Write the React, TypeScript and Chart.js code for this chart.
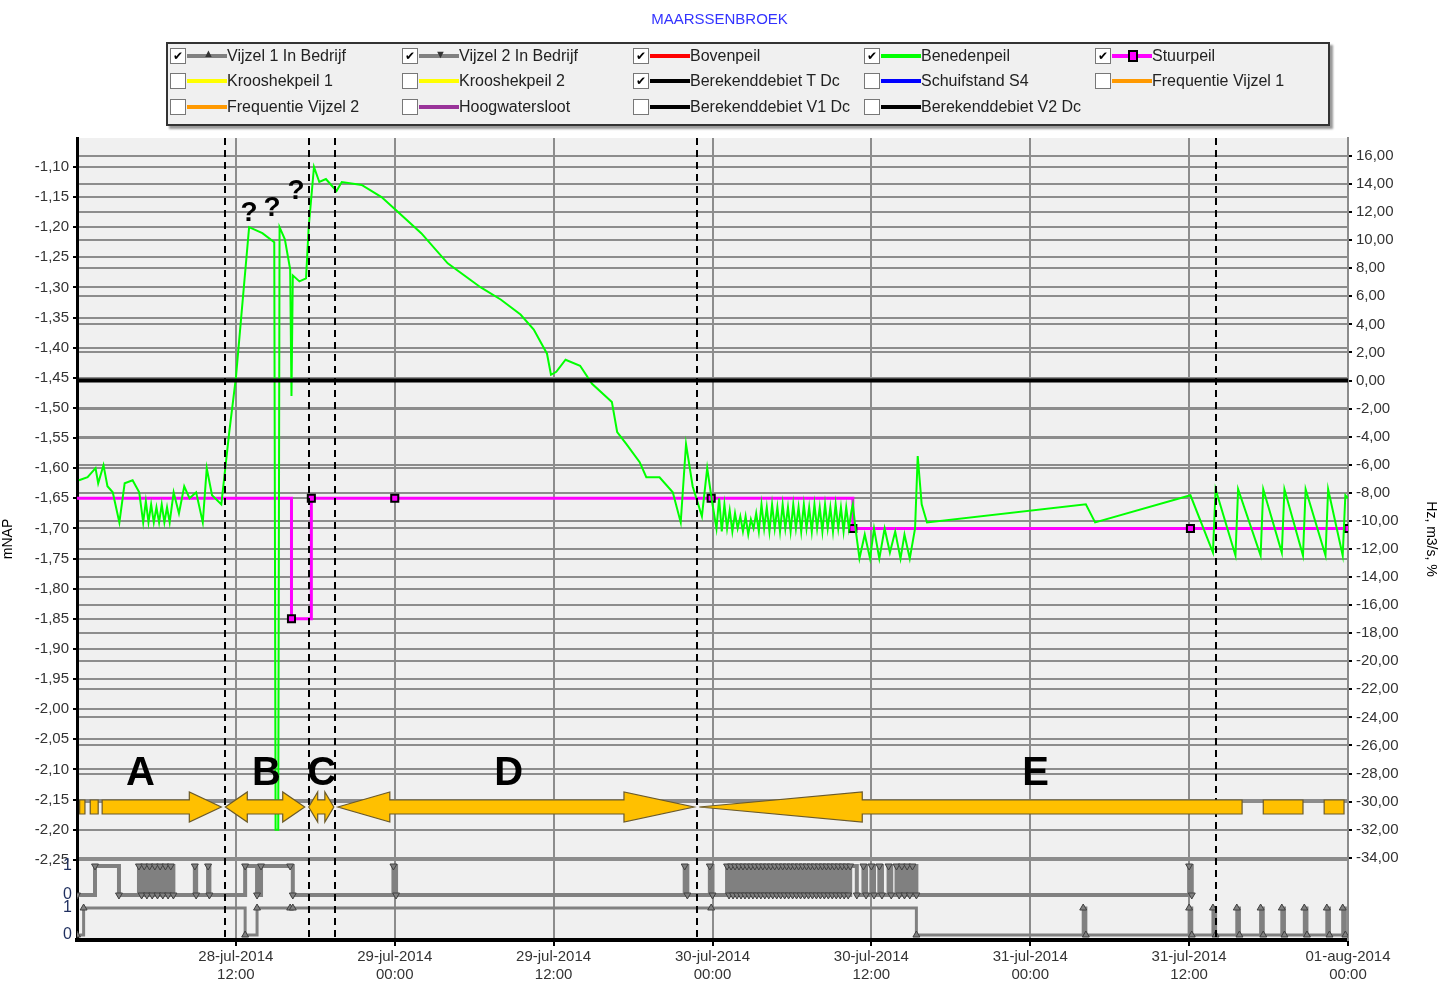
import React, { useEffect, useRef } from "react";
import { Chart, registerables } from "chart.js";
Chart.register(...registerables);

// hours since 28-jul-2014 00:00
const xTickHours = [12, 24, 36, 48, 60, 72, 84, 96];
const xTickLabels = [
  ["28-jul-2014", "12:00"], ["29-jul-2014", "00:00"], ["29-jul-2014", "12:00"], ["30-jul-2014", "00:00"],
  ["30-jul-2014", "12:00"], ["31-jul-2014", "00:00"], ["31-jul-2014", "12:00"], ["01-aug-2014", "00:00"],
];

const benedenH = [0.15, 0.8, 1.4, 1.6, 2.0, 2.3, 2.7, 3.2, 3.6, 4.2, 4.7, 5.0, 5.2, 5.4, 5.6, 5.8, 6.0, 6.2, 6.4, 6.6, 6.8, 7.0, 7.3, 7.7, 8.1, 8.5, 9.0, 9.5, 9.8, 10.2, 10.9, 11.5, 12.0, 12.4, 13.0, 14.0, 14.9, 15.0, 15.2, 15.3, 15.7, 16.1, 16.2, 16.3, 16.8, 17.3, 17.5, 17.9, 18.3, 18.8, 19.6, 20.0, 21.5, 23.0, 24.0, 26.0, 28.0, 30.5, 32.0, 33.5, 34.5, 35.5, 35.8, 36.2, 36.9, 38.0, 38.9, 40.4, 40.8, 41.5, 42.5, 43.0, 44.0, 45.0, 45.6, 46.0, 46.5, 47.2, 47.6, 48.0, 48.3,
  48.5, 48.7, 48.9, 49.1, 49.3, 49.5, 49.7, 49.9, 50.1, 50.3, 50.5, 50.7, 50.9, 51.1, 51.3, 51.5, 51.7, 51.9, 52.1, 52.3, 52.5, 52.7, 52.9, 53.1, 53.3, 53.5, 53.7, 53.9, 54.1, 54.3, 54.5, 54.7, 54.9, 55.1, 55.3, 55.5, 55.7, 55.9, 56.1, 56.3, 56.5, 56.7, 56.9, 57.1, 57.3, 57.5, 57.7, 57.9, 58.1, 58.3, 58.5,
  58.6, 58.8, 59.1, 59.5, 59.9, 60.2, 60.6, 61.0, 61.4, 61.8, 62.2, 62.5, 62.9, 63.3, 63.5, 63.8, 64.2, 76.2, 76.9, 84.1, 85.8, 86.0, 87.5, 87.7, 89.4, 89.6, 91.0, 91.2, 92.6, 92.8, 94.3, 94.5, 95.6, 95.8, 96.0];
const benedenV = [-1.62, -1.615, -1.60, -1.625, -1.595, -1.63, -1.64, -1.69, -1.625, -1.62, -1.64, -1.69, -1.655, -1.69, -1.66, -1.69, -1.665, -1.69, -1.66, -1.69, -1.665, -1.69, -1.64, -1.675, -1.63, -1.65, -1.64, -1.69, -1.60, -1.645, -1.66, -1.54, -1.45, -1.35, -1.20, -1.21, -1.225, -2.20, -2.20, -1.20, -1.22, -1.27, -1.48, -1.28, -1.29, -1.285, -1.20, -1.10, -1.125, -1.12, -1.14, -1.125, -1.13, -1.15, -1.17, -1.21, -1.26, -1.30, -1.32, -1.345, -1.37, -1.41, -1.445, -1.44, -1.42, -1.43, -1.46, -1.49, -1.54, -1.56, -1.59, -1.615, -1.615, -1.64, -1.69, -1.56, -1.63, -1.68, -1.60, -1.66, -1.70,
  -1.65, -1.705, -1.66, -1.70, -1.67, -1.705, -1.675, -1.70, -1.68, -1.705, -1.68, -1.71, -1.685, -1.70, -1.675, -1.705, -1.66, -1.70, -1.665, -1.705, -1.66, -1.70, -1.665, -1.705, -1.66, -1.70, -1.665, -1.705, -1.66, -1.70, -1.665, -1.705, -1.66, -1.70, -1.665, -1.705, -1.66, -1.70, -1.665, -1.705, -1.66, -1.70, -1.665, -1.705, -1.66, -1.70, -1.665, -1.705, -1.665, -1.70, -1.67,
  -1.66, -1.70, -1.75, -1.71, -1.75, -1.70, -1.75, -1.70, -1.74, -1.705, -1.75, -1.71, -1.75, -1.70, -1.58, -1.66, -1.69, -1.66, -1.69, -1.645, -1.74, -1.635, -1.745, -1.635, -1.745, -1.635, -1.74, -1.635, -1.745, -1.635, -1.745, -1.635, -1.745, -1.645, -1.65];

const stuurH = [0, 16.2, 16.2, 17.7, 17.7, 24.0, 47.9, 58.6, 58.6, 84.1, 96.0];
const stuurV = [-1.65, -1.65, -1.85, -1.85, -1.65, -1.65, -1.65, -1.65, -1.70, -1.70, -1.70];
const stuurMarker = [false, false, true, false, true, true, true, false, true, true, true];

const vijzel1H = [0, 0.5, 12.7, 13.6, 16.1, 16.3, 47.9, 63.4, 76.0, 76.2, 84.0, 84.2, 85.8, 86.0, 87.6, 87.8, 89.4, 89.6, 91.0, 91.2, 92.7, 92.9, 94.4, 94.6, 95.6, 95.8];
const vijzel1S = [0, 1, 0, 1, 1, 1, 1, 0, 1, 0, 1, 0, 1, 0, 1, 0, 1, 0, 1, 0, 1, 0, 1, 0, 1, 0];

const vijzel2EarlyH = [4.68, 4.88, 5.08, 5.28, 5.48, 5.68, 5.88, 6.08, 6.28, 6.48, 6.68, 6.88, 7.08, 7.28];
const vijzel2EarlyS = [1, 0, 1, 0, 1, 0, 1, 0, 1, 0, 1, 0, 1, 0];
const vijzel2DenseH = [49.10, 49.25, 49.40, 49.55, 49.70, 49.85, 50.00, 50.15, 50.30, 50.45, 50.60, 50.75, 50.90, 51.05, 51.20, 51.35, 51.50, 51.65, 51.80, 51.95, 52.10, 52.25, 52.40, 52.55, 52.70, 52.85, 53.00, 53.15, 53.30, 53.45, 53.60, 53.75, 53.90, 54.05, 54.20, 54.35, 54.50, 54.65, 54.80, 54.95, 55.10, 55.25, 55.40, 55.55, 55.70, 55.85, 56.00, 56.15, 56.30, 56.45, 56.60, 56.75, 56.90, 57.05, 57.20, 57.35, 57.50, 57.65, 57.80, 57.95, 58.10, 58.25, 58.40];
const vijzel2DenseS = [1, 0, 1, 0, 1, 0, 1, 0, 1, 0, 1, 0, 1, 0, 1, 0, 1, 0, 1, 0, 1, 0, 1, 0, 1, 0, 1, 0, 1, 0, 1, 0, 1, 0, 1, 0, 1, 0, 1, 0, 1, 0, 1, 0, 1, 0, 1, 0, 1, 0, 1, 0, 1, 0, 1, 0, 1, 0, 1, 0, 1, 0, 1];
const vijzel2H = [0, 1.36, 3.17, ...vijzel2EarlyH, 8.9, 9.0, 9.9, 10.0, 12.7, 13.6, 13.9, 16.1, 16.3, 23.9, 24.1, 45.9, 46.1, 47.8, 48.0, ...vijzel2DenseH, 58.9, 59.4, 59.6, 60.0, 60.2, 60.6, 60.8, 61.3, 61.5, 61.9, 62.1, 62.3, 62.5, 62.7, 62.9, 63.1, 63.4, 84.0, 84.2];
const vijzel2S = [0, 1, 0, ...vijzel2EarlyS, 1, 0, 1, 0, 1, 0, 1, 1, 0, 1, 0, 1, 0, 1, 0, ...vijzel2DenseS, 0, 1, 0, 1, 0, 1, 0, 1, 0, 1, 0, 1, 0, 1, 0, 1, 0, 1, 0];

const legendItems = [
  { label: "Vijzel 1 In Bedrijf", checked: true, color: "#808080", marker: "up" },
  { label: "Vijzel 2 In Bedrijf", checked: true, color: "#808080", marker: "down" },
  { label: "Bovenpeil", checked: true, color: "#ff0000" },
  { label: "Benedenpeil", checked: true, color: "#00ff00" },
  { label: "Stuurpeil", checked: true, color: "#ff00ff", marker: "square" },
  { label: "Krooshekpeil 1", checked: false, color: "#ffff00" },
  { label: "Krooshekpeil 2", checked: false, color: "#ffff00" },
  { label: "Berekenddebiet T Dc", checked: true, color: "#000000" },
  { label: "Schuifstand S4", checked: false, color: "#0000ff" },
  { label: "Frequentie Vijzel 1", checked: false, color: "#ff9900" },
  { label: "Frequentie Vijzel 2", checked: false, color: "#ff9900" },
  { label: "Hoogwatersloot", checked: false, color: "#993399" },
  { label: "Berekenddebiet V1 Dc", checked: false, color: "#000000" },
  { label: "Berekenddebiet V2 Dc", checked: false, color: "#000000" },
];

const dashedHours = [11.2, 17.5, 19.5, 46.8, 86.0];
const phaseLetters = ["A", "B", "C", "D", "E"];
const phaseLetterHours = [4.8, 14.3, 18.5, 32.6, 72.4];

// status rows in pixel offsets from the bottom of the plot (layout only)
const V1_ROW = [5, 32];
const V2_ROW = [45, 74];
const FONT = "'Liberation Sans', Arial, sans-serif";

export default function App() {
  const ref = useRef<HTMLCanvasElement>(null);
  useEffect(() => {
    document.body.style.margin = "0";
    const overlay = {
      id: "overlay",
      afterDraw(chart: any) {
        const { ctx, chartArea: a, scales } = chart;
        const x = scales.x;
        ctx.save();
        ctx.strokeStyle = "#000";
        ctx.lineWidth = 2;
        ctx.setLineDash([7, 5]);
        for (const h of dashedHours) {
          const px = Math.round(x.getPixelForValue(h));
          ctx.beginPath(); ctx.moveTo(px, a.top); ctx.lineTo(px, a.bottom); ctx.stroke();
        }
        ctx.setLineDash([]);
        const y = 807;
        const arrow = (x1: number, x2: number, lh: number, rh: number) => {
          const bh = 7, hh = 15;
          ctx.beginPath();
          if (lh > 0) { ctx.moveTo(x1, y); ctx.lineTo(x1 + lh, y - hh); ctx.lineTo(x1 + lh, y - bh); }
          else { ctx.moveTo(x1, y - bh); }
          if (rh > 0) { ctx.lineTo(x2 - rh, y - bh); ctx.lineTo(x2 - rh, y - hh); ctx.lineTo(x2, y); ctx.lineTo(x2 - rh, y + hh); ctx.lineTo(x2 - rh, y + bh); }
          else { ctx.lineTo(x2, y - bh); ctx.lineTo(x2, y + bh); }
          if (lh > 0) { ctx.lineTo(x1 + lh, y + bh); ctx.lineTo(x1 + lh, y + hh); }
          else { ctx.lineTo(x1, y + bh); }
          ctx.closePath();
          ctx.fillStyle = "#ffc000"; ctx.fill();
          ctx.strokeStyle = "#6b5a2a"; ctx.lineWidth = 1.2; ctx.stroke();
        };
        const P = (h: number) => x.getPixelForValue(h);
        arrow(P(0.2), P(0.6), 0, 0);
        arrow(P(1.0), P(1.6), 0, 0);
        arrow(P(1.9), P(10.9), 0, 32);
        arrow(P(11.2), P(17.2), 22, 22);
        arrow(P(17.5), P(19.4), 9, 9);
        arrow(P(19.7), P(46.6), 52, 70);
        arrow(P(47.0), P(88.0), 163, 0);
        arrow(P(89.6), P(92.6), 0, 0);
        arrow(P(94.2), P(95.7), 0, 0);
        ctx.fillStyle = "#000";
        ctx.font = `bold 40px ${FONT}`;
        ctx.textAlign = "center"; ctx.textBaseline = "middle";
        phaseLetters.forEach((l, i) => ctx.fillText(l, P(phaseLetterHours[i]), 774));
        ctx.font = `bold 28px ${FONT}`;
        ctx.fillText("?", 249, 213); ctx.fillText("?", 272, 208); ctx.fillText("?", 296, 191);
        ctx.font = `16px ${FONT}`;
        ctx.fillStyle = "#1f2f5f";
        ctx.textAlign = "right";
        [[V2_ROW[1], "1"], [V2_ROW[0], "0"], [V1_ROW[1], "1"], [V1_ROW[0], "0"]].forEach(([o, t]: any) => {
          ctx.fillText(t, a.left - 5, a.bottom - o);
        });
        ctx.restore();
      },
    };
    const bg = {
      id: "bg",
      beforeDraw(chart: any) {
        const { ctx, chartArea: a } = chart;
        ctx.save(); ctx.fillStyle = "#f0f0f0"; ctx.fillRect(a.left, a.top, a.width, a.height); ctx.restore();
      },
    };
    const H = 802;
    const statusPts = (hs: number[], ss: number[], row: number[]) => hs.map((h, i) => ({ x: h, y: row[ss[i]] }));
    const chart = new Chart(ref.current!, {
      type: "line",
      data: {
        datasets: [
          { label: "zero", data: [{ x: 0, y: 0 }, { x: 96, y: 0 }], yAxisID: "yr", borderColor: "#000", borderWidth: 4, pointRadius: 0 },
          { label: "Benedenpeil", data: benedenH.map((h, i) => ({ x: h, y: benedenV[i] })), yAxisID: "y", borderColor: "#00ff00", borderWidth: 2, pointRadius: 0, tension: 0 },
          { label: "Stuurpeil", data: stuurH.map((h, i) => ({ x: h, y: stuurV[i] })), yAxisID: "y", borderColor: "#ff00ff", borderWidth: 3, pointRadius: stuurMarker.map((m) => (m ? 5 : 0)), pointStyle: "rect", pointBackgroundColor: "#ff00ff", pointBorderColor: "#000", pointBorderWidth: 2 },
          { label: "V2", data: statusPts(vijzel2H, vijzel2S, V2_ROW), yAxisID: "ys", stepped: true, borderColor: "#808080", borderWidth: 4, pointRadius: 4, pointStyle: "triangle", rotation: 180, pointBackgroundColor: "#808080", pointBorderColor: "#404040", pointBorderWidth: 1 },
          { label: "V1", data: statusPts(vijzel1H, vijzel1S, V1_ROW), yAxisID: "ys", stepped: true, borderColor: "#808080", borderWidth: 3, pointRadius: 4, pointStyle: "triangle", pointBackgroundColor: "#808080", pointBorderColor: "#404040", pointBorderWidth: 1 },
        ],
      },
      options: {
        animation: false, responsive: false, devicePixelRatio: 1,
        layout: { padding: { top: 138, left: 0, right: 0, bottom: 0 } },
        plugins: { legend: { display: false }, tooltip: { enabled: false } },
        scales: {
          x: {
            type: "linear", min: 0, max: 96,
            afterBuildTicks: (s: any) => { s.ticks = xTickHours.map((v) => ({ value: v })); },
            afterFit: (s: any) => { s.height = 46; },
            ticks: { callback: (v: any) => xTickLabels[xTickHours.indexOf(v)] ?? "", color: "#333", font: { size: 15, family: FONT }, maxRotation: 0, padding: 2 },
            grid: { color: "#8c8c8c", lineWidth: 2, tickLength: 6, tickColor: "#000" },
            border: { color: "#000", width: 4 },
          },
          y: {
            position: "left", min: -2.383, max: -1.052,
            afterBuildTicks: (s: any) => { const t = []; for (let i = 0; i <= 23; i++) t.push({ value: -1.10 - i * 0.05 }); s.ticks = t; },
            afterFit: (s: any) => { s.width = 77; },
            ticks: { callback: (v: any) => Number(v).toFixed(2).replace(".", ","), color: "#333", font: { size: 15, family: FONT }, padding: 4 },
            title: { display: true, text: "mNAP", color: "#000", font: { size: 14, family: FONT }, padding: 0 },
            grid: { color: "#8c8c8c", lineWidth: 2, tickLength: 4, tickColor: "#000" },
            border: { color: "#000", width: 3 },
          },
          yr: {
            position: "right", min: -39.86, max: 17.28,
            afterBuildTicks: (s: any) => { const t = []; for (let v = -34; v <= 16; v += 2) t.push({ value: v }); s.ticks = t; },
            afterFit: (s: any) => { s.width = 91; },
            ticks: { callback: (v: any) => Number(v).toFixed(2).replace(".", ","), color: "#333", font: { size: 15, family: FONT }, padding: 4 },
            title: { display: true, text: "Hz, m3/s, %", color: "#000", font: { size: 14, family: FONT }, padding: 0 },
            grid: { color: "#8c8c8c", lineWidth: 2, tickLength: 4, tickColor: "#000" },
            border: { color: "#8c8c8c", width: 2 },
          },
          ys: { display: false, min: 0, max: H },
        },
      } as any,
      plugins: [bg, overlay],
    });
    return () => chart.destroy();
  }, []);

  const cols = [170, 402, 633, 864, 1095];
  const rows = [56, 81, 107];
  return (
    <div style={{ position: "relative", width: 1439, height: 986, background: "#fff", fontFamily: FONT }}>
      <canvas ref={ref} width={1439} height={986} style={{ position: "absolute", left: 0, top: 0 }} />
      <div style={{ position: "absolute", left: 0, width: 1439, top: 10, textAlign: "center", color: "#3333ff", fontSize: 15 }}>MAARSSENBROEK</div>
      <div style={{ position: "absolute", left: 166, top: 42, width: 1160, height: 80, background: "#f0f0f0", border: "2px solid #333", boxShadow: "3px 3px 2px #999" }} />
      {legendItems.map((it, i) => {
        const cx = cols[i % 5], cy = rows[Math.floor(i / 5)];
        return (
          <div key={i} style={{ position: "absolute", left: cx, top: cy - 9, height: 18, display: "flex", alignItems: "center" }}>
            <div style={{ width: 14, height: 14, border: "1px solid #777", background: "#fff", fontSize: 12, lineHeight: "14px", textAlign: "center", color: "#000" }}>{it.checked ? "✔" : ""}</div>
            <div style={{ position: "relative", width: 40, height: 18, marginLeft: 1 }}>
              <div style={{ position: "absolute", left: 0, right: 0, top: 7, height: 4, background: it.color }} />
              {it.marker === "square" && <div style={{ position: "absolute", left: 16, top: 3, width: 6, height: 8, background: "#ff00ff", border: "2px solid #000" }} />}
              {it.marker === "up" && <div style={{ position: "absolute", left: 16, top: 0, fontSize: 11, color: "#333" }}>▲</div>}
              {it.marker === "down" && <div style={{ position: "absolute", left: 16, top: 1, fontSize: 11, color: "#333" }}>▼</div>}
            </div>
            <div style={{ fontSize: 16, color: "#222", marginLeft: 0, whiteSpace: "nowrap" }}>{it.label}</div>
          </div>
        );
      })}
    </div>
  );
}
